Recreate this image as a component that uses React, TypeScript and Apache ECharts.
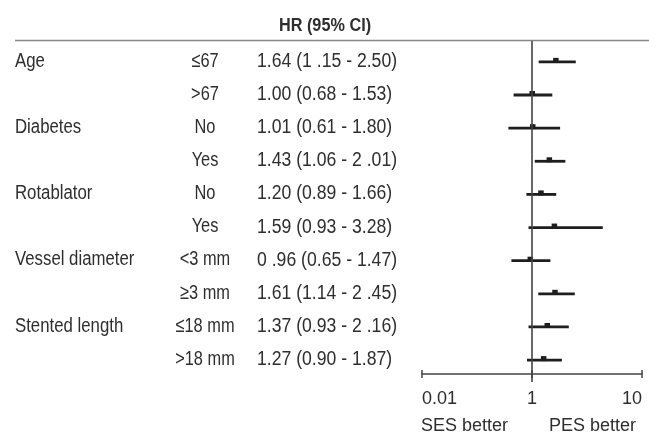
import React, { useEffect, useRef } from "react";
import * as echarts from "echarts";

const groups = ["Age", "", "Diabetes", "", "Rotablator", "", "Vessel diameter", "", "Stented length", ""];
const subgroups = ["≤67", ">67", "No", "Yes", "No", "Yes", "<3 mm", "≥3 mm", "≤18 mm", ">18 mm"];
const hrTexts = [
  "1.64 (1 .15 - 2.50)",
  "1.00 (0.68 - 1.53)",
  "1.01 (0.61 - 1.80)",
  "1.43 (1.06 - 2 .01)",
  "1.20 (0.89 - 1.66)",
  "1.59 (0.93 - 3.28)",
  "0 .96 (0.65 - 1.47)",
  "1.61 (1.14 - 2 .45)",
  "1.37 (0.93 - 2 .16)",
  "1.27 (0.90 - 1.87)",
];
const hr = [1.64, 1.0, 1.01, 1.43, 1.2, 1.59, 0.96, 1.61, 1.37, 1.27];
const lower = [1.15, 0.68, 0.61, 1.06, 0.89, 0.93, 0.65, 1.14, 0.93, 0.9];
const upper = [2.5, 1.53, 1.8, 2.01, 1.66, 4.4, 1.47, 2.45, 2.16, 1.87];
const xTickLabels = ["0.01", "1", "10"];
const headerTitle = "HR (95% CI)";
const leftNote = "SES better";
const rightNote = "PES better";

const FONT = "'Liberation Sans', Arial, sans-serif";
const TXT = "#2e2e2e";

export default function App() {
  const ref = useRef<HTMLDivElement>(null);
  useEffect(() => {
    if (!ref.current) return;
    const chart = echarts.init(ref.current, null, { renderer: "svg" });
    const tickFmt = (v: number) => xTickLabels[Math.round(Math.log10(v)) + 1] ?? "";
    const option: any = {
      animation: false,
      grid: { left: 422, right: 7, top: 41, bottom: 61 },
      xAxis: [
        {
          type: "log",
          logBase: 10,
          min: 0.1,
          max: 10,
          position: "bottom",
          axisLine: { show: true, lineStyle: { color: "#444", width: 1.5 } },
          axisTick: { show: true, inside: false, length: 4, lineStyle: { color: "#444", width: 1.5 } },
          splitLine: { show: false },
          minorTick: { show: false },
          axisLabel: {
            formatter: tickFmt,
            fontFamily: FONT,
            fontSize: 18,
            color: TXT,
            margin: 15,
            alignMinLabel: "left",
            alignMaxLabel: "right",
          },
        },
        {
          type: "log",
          logBase: 10,
          min: 0.1,
          max: 10,
          position: "bottom",
          axisLine: { show: false },
          axisTick: { show: true, inside: true, length: 4, lineStyle: { color: "#444", width: 1.5 } },
          splitLine: { show: false },
          axisLabel: { show: false },
        },
      ],
      yAxis: {
        type: "value",
        inverse: true,
        min: 0.37,
        max: 10.42,
        show: false,
      },
      series: [
        {
          type: "line",
          data: [
            [1, 0.37],
            [1, 10.66],
          ],
          clip: false,
          symbol: "none",
          lineStyle: { color: "#444", width: 1.6 },
          silent: true,
        },
        {
          type: "custom",
          clip: false,
          data: hr.map((h, i) => [i + 1, lower[i], upper[i], h]),
          encode: { x: [1, 2, 3], y: 0 },
          renderItem: (params: any, api: any) => {
            const row = api.value(0);
            const l = api.coord([api.value(1), row]);
            const u = api.coord([api.value(2), row]);
            const m = api.coord([api.value(3), row]);
            return {
              type: "group",
              children: [
                {
                  type: "line",
                  shape: { x1: l[0], y1: l[1], x2: u[0], y2: u[1] },
                  style: { stroke: "#1e1e1e", lineWidth: 2.8 },
                },
                {
                  type: "rect",
                  shape: { x: m[0] - 2.5, y: m[1] - 4, width: 5.5, height: 5 },
                  style: { fill: "#1e1e1e" },
                },
              ],
            };
          },
        },
      ],
    };
    chart.setOption(option);

    const txt = (text: string, x: number, y: number, align: string, sx: number, extra: any = {}) => ({
      type: "text",
      x,
      y,
      scaleX: sx,
      style: {
        text,
        fontFamily: FONT,
        fontSize: 21,
        fill: TXT,
        align,
        verticalAlign: "middle",
        ...extra,
      },
    });

    const gfx: any[] = [
      txt(headerTitle, 325, 25, "center", 0.93, { fontWeight: "bold", fontSize: 17.5 }),
      {
        type: "line",
        shape: { x1: 15, y1: 40.5, x2: 649, y2: 40.5 },
        style: { stroke: "#888", lineWidth: 1.5 },
      },
      txt(leftNote, 421, 425, "left", 1, { fontSize: 18 }),
      txt(rightNote, 636, 425, "right", 1, { fontSize: 18 }),
    ];
    hr.forEach((_, i) => {
      const y = (chart.convertToPixel({ yAxisIndex: 0 } as any, i + 1) as number) - 2.5;
      if (groups[i]) gfx.push(txt(groups[i], 15, y, "left", 0.8));
      gfx.push(txt(subgroups[i], 205, y, "center", 0.78));
      gfx.push(txt(hrTexts[i], 257, y, "left", 0.84));
    });
    chart.setOption({ graphic: gfx });
    return () => chart.dispose();
  }, []);
  return <div ref={ref} style={{ position: "fixed", left: 0, top: 0, width: 649, height: 435 }} />;
}
